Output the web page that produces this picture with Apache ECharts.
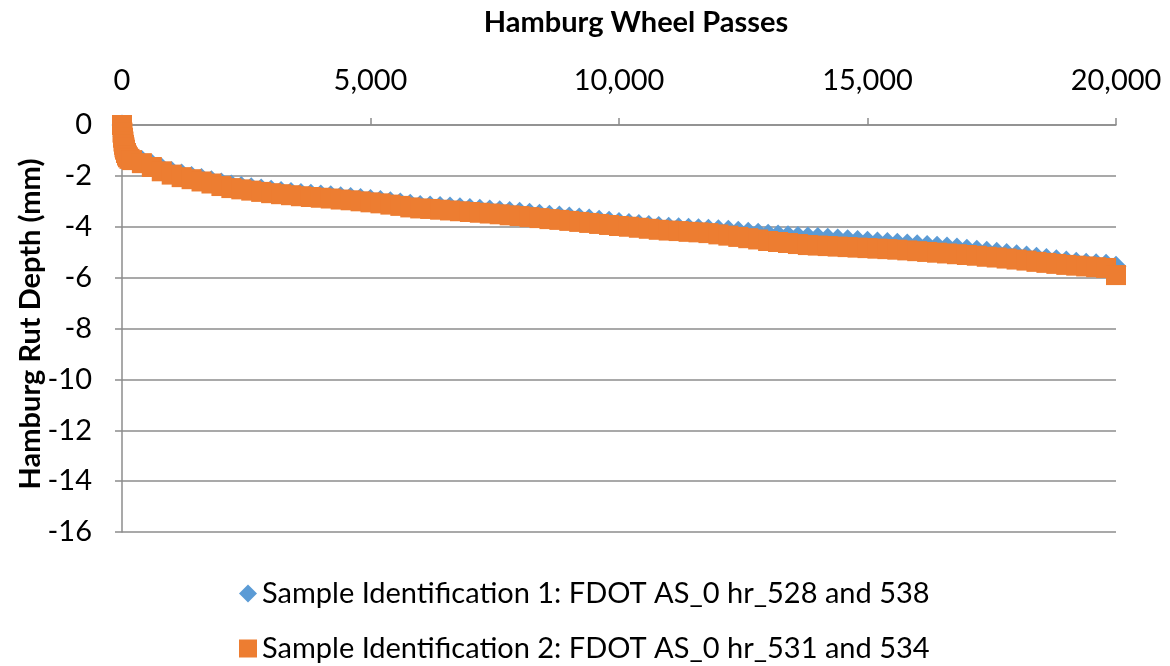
<!DOCTYPE html>
<html>
<head>
<meta charset="utf-8">
<script src="https://cdn.jsdelivr.net/npm/echarts@6/dist/echarts.min.js"></script>
<style>
  html, body { margin: 0; padding: 0; background: #fff; }
  #chart { width: 1170px; height: 666px; }
</style>
</head>
<body>
<div id="chart"></div>
<script>
// Hamburg wheel-tracking results: rut depth (mm) against wheel passes
const passes = [
  0, 10, 20, 30, 40, 50, 60, 80, 100, 120, 150,
  200, 400, 600, 800, 1000, 1200, 1400, 1600, 1800, 2000,
  2200, 2400, 2600, 2800, 3000, 3200, 3400, 3600, 3800, 4000,
  4200, 4400, 4600, 4800, 5000, 5200, 5400, 5600, 5800, 6000,
  6200, 6400, 6600, 6800, 7000, 7200, 7400, 7600, 7800, 8000,
  8200, 8400, 8600, 8800, 9000, 9200, 9400, 9600, 9800, 10000,
  10200, 10400, 10600, 10800, 11000, 11200, 11400, 11600, 11800, 12000,
  12200, 12400, 12600, 12800, 13000, 13200, 13400, 13600, 13800, 14000,
  14200, 14400, 14600, 14800, 15000, 15200, 15400, 15600, 15800, 16000,
  16200, 16400, 16600, 16800, 17000, 17200, 17400, 17600, 17800, 18000,
  18200, 18400, 18600, 18800, 19000, 19200, 19400, 19600, 19800, 20000
];

// Sample 1 (528 and 538)
const rutSample1 = [
  0, -0.25, -0.45, -0.6, -0.72, -0.82, -0.9, -1.02, -1.1, -1.17, -1.23,
  -1.28, -1.4, -1.54, -1.7, -1.83, -1.93, -2.02, -2.1, -2.19, -2.28,
  -2.36, -2.42, -2.47, -2.52, -2.57, -2.61, -2.65, -2.69, -2.72, -2.75,
  -2.78, -2.82, -2.85, -2.89, -2.93, -2.97, -3.02, -3.07, -3.12, -3.16,
  -3.18, -3.2, -3.22, -3.25, -3.28, -3.31, -3.34, -3.37, -3.4, -3.43,
  -3.47, -3.51, -3.55, -3.58, -3.62, -3.66, -3.7, -3.74, -3.78, -3.83,
  -3.87, -3.91, -3.95, -3.99, -4.02, -4.04, -4.06, -4.08, -4.1, -4.12,
  -4.14, -4.18, -4.22, -4.26, -4.29, -4.32, -4.35, -4.38, -4.4, -4.42,
  -4.45, -4.48, -4.51, -4.54, -4.57, -4.6, -4.62, -4.65, -4.68, -4.71,
  -4.74, -4.77, -4.8, -4.84, -4.88, -4.92, -4.96, -5.0, -5.05, -5.1,
  -5.15, -5.2, -5.25, -5.3, -5.35, -5.4, -5.43, -5.45, -5.47, -5.55
];

// Sample 2 (531 and 534)
const rutSample2 = [
  0, -0.3, -0.5, -0.65, -0.78, -0.88, -0.97, -1.1, -1.2, -1.27, -1.33,
  -1.38, -1.5, -1.65, -1.82, -1.95, -2.05, -2.13, -2.22, -2.3, -2.4,
  -2.48, -2.53, -2.58, -2.63, -2.68, -2.72, -2.76, -2.8, -2.83, -2.86,
  -2.89, -2.93, -2.96, -3.0, -3.04, -3.08, -3.13, -3.18, -3.24, -3.28,
  -3.3, -3.33, -3.36, -3.39, -3.42, -3.45, -3.48, -3.51, -3.55, -3.58,
  -3.62, -3.66, -3.7, -3.73, -3.77, -3.81, -3.85, -3.89, -3.93, -3.97,
  -4.0, -4.04, -4.08, -4.12, -4.15, -4.17, -4.2, -4.22, -4.25, -4.3,
  -4.35, -4.4, -4.45, -4.5, -4.56, -4.6, -4.64, -4.68, -4.72, -4.74,
  -4.76, -4.78, -4.8, -4.82, -4.84, -4.86, -4.88, -4.9, -4.93, -4.96,
  -4.99, -5.02, -5.05, -5.08, -5.11, -5.14, -5.18, -5.21, -5.25, -5.29,
  -5.33, -5.38, -5.42, -5.46, -5.5, -5.53, -5.56, -5.59, -5.62, -5.9
];

const seriesNames = [
  'Sample Identification 1: FDOT AS_0 hr_528 and 538',
  'Sample Identification 2: FDOT AS_0 hr_531 and 534'
];

const xTitle = 'Hamburg Wheel Passes';
const yTitle = 'Hamburg Rut Depth (mm)';

const FONT = 'Lato, "Open Sans", sans-serif';
const FONT_SIZE = 29;
const BLUE = '#5B9BD5';
const ORANGE = '#ED7D31';
const GRID_GRAY = '#8C8C8C';

function pairs(xs, ys) {
  return xs.map((x, i) => [x, ys[i]]);
}

// one legend row per series, stacked under the plot
function legendRow(name, icon, top) {
  return {
    left: 234,
    top: top,
    itemWidth: 18,
    itemHeight: 18,
    textStyle: { fontFamily: FONT, fontSize: FONT_SIZE, color: '#000' },
    data: [{ name: name, icon: icon, itemStyle: { opacity: 1 } }]
  };
}

const chart = echarts.init(document.getElementById('chart'), null, { renderer: 'canvas' });

chart.setOption({
  animation: false,
  backgroundColor: '#fff',
  grid: { left: 122, right: 54, top: 125, bottom: 134, containLabel: false },
  graphic: [
    {
      type: 'text',
      x: 636,
      y: 23,
      style: {
        text: xTitle,
        font: 'bold ' + FONT_SIZE + 'px ' + FONT,
        fill: '#000',
        align: 'center',
        verticalAlign: 'middle'
      }
    },
    {
      type: 'text',
      x: 31,
      y: 324,
      rotation: Math.PI / 2,
      style: {
        text: yTitle,
        font: 'bold ' + FONT_SIZE + 'px ' + FONT,
        fill: '#000',
        align: 'center',
        verticalAlign: 'middle'
      }
    }
  ],
  legend: [
    legendRow(seriesNames[0], 'diamond', 574),
    legendRow(seriesNames[1], 'rect', 629)
  ],
  xAxis: {
    type: 'value',
    position: 'top',
    min: 0,
    max: 20000,
    interval: 5000,
    axisLine: { show: true, onZero: false, lineStyle: { color: GRID_GRAY, width: 1.5 } },
    axisTick: { show: true, length: 7, lineStyle: { color: GRID_GRAY, width: 1.5 } },
    splitLine: { show: false },
    axisLabel: {
      margin: 30,
      fontFamily: FONT,
      fontSize: FONT_SIZE,
      color: '#000',
      formatter: v => v.toLocaleString('en-US')
    }
  },
  yAxis: {
    type: 'value',
    min: -16,
    max: 0,
    interval: 2,
    axisLine: { show: true, lineStyle: { color: GRID_GRAY, width: 1.5 } },
    axisTick: { show: true, length: 7, lineStyle: { color: GRID_GRAY, width: 1.5 } },
    splitLine: { show: true, lineStyle: { color: GRID_GRAY, width: 1.5 } },
    axisLabel: {
      margin: 30,
      fontFamily: FONT,
      fontSize: FONT_SIZE,
      color: '#000'
    }
  },
  series: [
    {
      name: seriesNames[0],
      type: 'scatter',
      symbol: 'diamond',
      symbolSize: 21,
      itemStyle: { color: BLUE, opacity: 1 },
      data: pairs(passes, rutSample1)
    },
    {
      name: seriesNames[1],
      type: 'scatter',
      symbol: 'rect',
      symbolSize: 20,
      itemStyle: { color: ORANGE, opacity: 1 },
      data: pairs(passes, rutSample2)
    }
  ]
});
</script>
</body>
</html>
